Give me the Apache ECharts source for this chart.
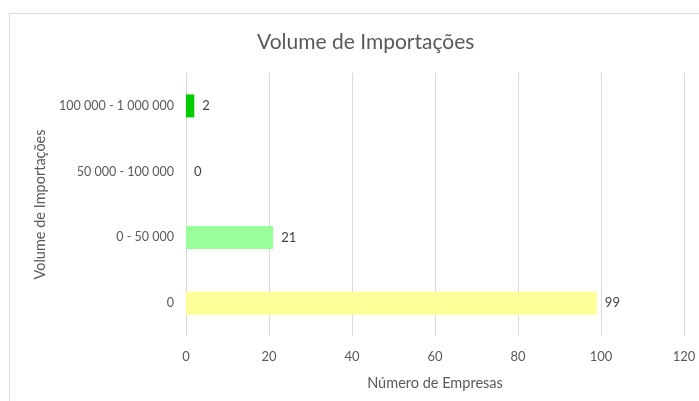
<!DOCTYPE html>
<html>
<head>
<meta charset="utf-8">
<script src="https://cdn.jsdelivr.net/npm/echarts@6/dist/echarts.min.js"></script>
<style>
  html, body { margin: 0; padding: 0; background: #fff; }
  #chart { width: 699px; height: 401px; }
  .frame { position: absolute; left: 9px; top: 13px; width: 700px; height: 400px; border: 1px solid #d9d9d9; pointer-events: none; }
</style>
</head>
<body>
<div id="chart"></div>
<div class="frame"></div>
<script>
  var categories = ['0', '0 - 50 000', '50 000 - 100 000', '100 000 - 1 000 000']
  var values = [99, 21, 0, 2]
  var barColors = ['#ffff99', '#99ff99', '#ccffcc', '#00cc00']
  var xTicks = [0, 20, 40, 60, 80, 100, 120]

  var font = 'Lato, "Open Sans", sans-serif'
  var chart = echarts.init(document.getElementById('chart'))

  var option = {
    animation: false,
    textStyle: { fontFamily: font },
    title: {
      text: 'Volume de Importações',
      left: 252,
      top: 27,
      textStyle: { fontFamily: font, fontSize: 21, fontWeight: 'normal', color: '#595959' }
    },
    grid: { left: 186, right: 15, top: 73, bottom: 65 },
    xAxis: {
      type: 'value',
      min: xTicks[0],
      max: xTicks[xTicks.length - 1],
      interval: 20,
      name: 'Número de Empresas',
      nameLocation: 'middle',
      nameGap: 40,
      nameTextStyle: { fontFamily: font, fontSize: 14.5, color: '#595959' },
      axisLine: { show: false },
      axisTick: { show: false },
      axisLabel: { fontFamily: font, fontSize: 13, color: '#595959', margin: 14 },
      splitLine: { show: true, lineStyle: { color: '#d9d9d9', width: 1 } }
    },
    yAxis: {
      type: 'category',
      data: categories,
      name: 'Volume de Importações',
      nameLocation: 'middle',
      nameGap: 136,
      nameRotate: 90,
      nameTextStyle: { fontFamily: font, fontSize: 14.5, color: '#595959' },
      axisLine: { show: false },
      axisTick: { show: false },
      axisLabel: { fontFamily: font, fontSize: 12.5, color: '#595959', margin: 12 }
    },
    series: [{
      type: 'bar',
      data: values.map(function (v, i) {
        return { value: v, itemStyle: { color: barColors[i] } }
      }),
      barWidth: 23,
      label: {
        show: true,
        position: 'right',
        distance: 8,
        fontFamily: font,
        fontSize: 13,
        color: '#404040'
      }
    }]
  }
  chart.setOption(option)
</script>
</body>
</html>
